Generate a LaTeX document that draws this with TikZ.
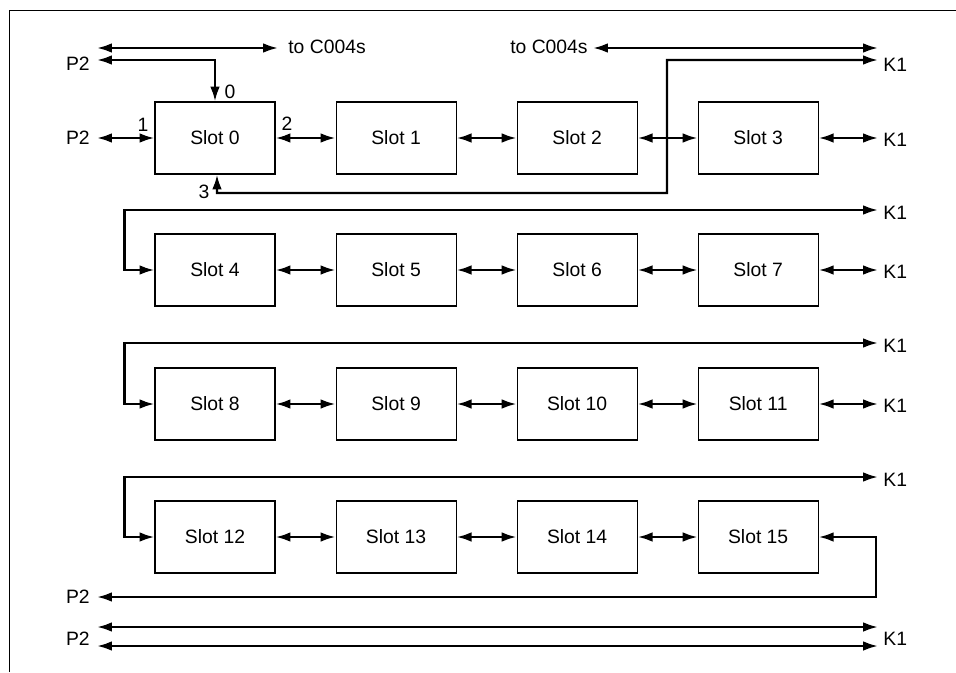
\documentclass[tikz,border=0pt]{standalone}
\usepackage{fontspec}
\setmainfont{Liberation Sans}
\usetikzlibrary{arrows.meta}
\usetikzlibrary{positioning}

\tikzset{
  slot/.style={draw,line width=0.6pt,minimum width=2.4cm,minimum height=1.44cm,inner sep=0pt,font=\fontsize{11}{13}\selectfont},
  link/.style={line width=1.4pt,{Latex[length=8.5pt,width=5.5pt]}-{Latex[length=8.5pt,width=5.5pt]}},
  tag/.style={inner sep=0pt,font=\fontsize{11}{13}\selectfont},
  port/.style={inner sep=0pt,font=\fontsize{11}{13}\selectfont}
}

\begin{document}
\begin{tikzpicture}
\useasboundingbox (0,0) rectangle (19.12,13.44);
\draw[line width=0.5pt] (0.18,0) -- (0.18,13.24) -- (19.12,13.24);

% slots
\node[slot] (s0) at (4.3,10.68) {Slot 0};
\node[slot,right=1.2cm of s0] (s1) {Slot 1};
\node[slot,right=1.2cm of s1] (s2) {Slot 2};
\node[slot,right=1.2cm of s2] (s3) {Slot 3};
\node[slot] (s4) at (4.3,8.04) {Slot 4};
\node[slot,right=1.2cm of s4] (s5) {Slot 5};
\node[slot,right=1.2cm of s5] (s6) {Slot 6};
\node[slot,right=1.2cm of s6] (s7) {Slot 7};
\node[slot] (s8) at (4.3,5.36) {Slot 8};
\node[slot,right=1.2cm of s8] (s9) {Slot 9};
\node[slot,right=1.2cm of s9] (s10) {Slot 10};
\node[slot,right=1.2cm of s10] (s11) {Slot 11};
\node[slot] (s12) at (4.3,2.7) {Slot 12};
\node[slot,right=1.2cm of s12] (s13) {Slot 13};
\node[slot,right=1.2cm of s13] (s14) {Slot 14};
\node[slot,right=1.2cm of s14] (s15) {Slot 15};

% free ends on the left (P2) and right (K1)
\coordinate (cL) at (1.94,12.48);
\coordinate (cR) at (17.56,12.48);
\coordinate (pA) at (1.94,12.24);
\coordinate (pB) at (1.94,10.68);
\coordinate (pC) at (1.94,1.5);
\coordinate (pD) at (1.94,0.9);
\coordinate (pE) at (1.94,0.52);
\coordinate (kA) at (17.56,12.24);
\coordinate (kB) at (17.56,10.68);
\coordinate (kC) at (17.56,9.24);
\coordinate (kD) at (17.56,8.04);
\coordinate (kE) at (17.56,6.58);
\coordinate (kF) at (17.56,5.36);
\coordinate (kG) at (17.56,3.9);
\coordinate (kH) at (17.56,0.9);
\coordinate (kI) at (17.56,0.52);

% to C004s
\node[tag,anchor=west] (tcL) at (5.76,12.5) {to C004s};
\node[tag,anchor=east] (tcR) at (11.76,12.5) {to C004s};
\draw[link] (cL) -- (5.56,12.48);
\draw[link] (11.86,12.48) -- (cR);

% Slot 0 ports
\draw[link] (pA) -| (s0.north);
\draw[link] (pB) -- (s0.west);
\draw[link] (s0.east) -- (s1.west);
\draw[link] ([xshift=0.04cm]s0.south) -- (4.34,9.58) -| (13.34,12.24) -- (kA);
\node[port] (n0) at (4.6,11.6) {0};
\node[port] (n1) at (2.86,10.94) {1};
\node[port] (n2) at (5.74,10.96) {2};
\node[port] (n3) at (4.08,9.6) {3};

% chains
\draw[link] (s1.east) -- (s2.west);
\draw[link] (s2.east) -- (s3.west);
\draw[link] (s3.east) -- (kB);
\draw[link] (s4.west) -- ++(-0.6,0) |- (kC);
\draw[link] (s4.east) -- (s5.west);
\draw[link] (s5.east) -- (s6.west);
\draw[link] (s6.east) -- (s7.west);
\draw[link] (s7.east) -- (kD);
\draw[link] (s8.west) -- ++(-0.6,0) |- (kE);
\draw[link] (s8.east) -- (s9.west);
\draw[link] (s9.east) -- (s10.west);
\draw[link] (s10.east) -- (s11.west);
\draw[link] (s11.east) -- (kF);
\draw[link] (s12.west) -- ++(-0.6,0) |- (kG);
\draw[link] (s12.east) -- (s13.west);
\draw[link] (s13.east) -- (s14.west);
\draw[link] (s14.east) -- (s15.west);
\draw[link] (s15.east) -- (17.52,2.7) |- (pC);
\draw[link] (pD) -- (kH);
\draw[link] (pE) -- (kI);

% P2 / K1 labels
\node[tag,anchor=east] at (1.8,12.16) {P2};
\node[tag,anchor=east] at (1.8,10.68) {P2};
\node[tag,anchor=east] at (1.8,1.5) {P2};
\node[tag,anchor=east] at (1.8,0.66) {P2};
\node[tag,anchor=west] at (17.66,12.14) {K1};
\node[tag,anchor=west] at (17.66,10.64) {K1};
\node[tag,anchor=west] at (17.66,9.18) {K1};
\node[tag,anchor=west] at (17.66,8.0) {K1};
\node[tag,anchor=west] at (17.66,6.52) {K1};
\node[tag,anchor=west] at (17.66,5.32) {K1};
\node[tag,anchor=west] at (17.66,3.84) {K1};
\node[tag,anchor=west] at (17.66,0.66) {K1};
\end{tikzpicture}
\end{document}
